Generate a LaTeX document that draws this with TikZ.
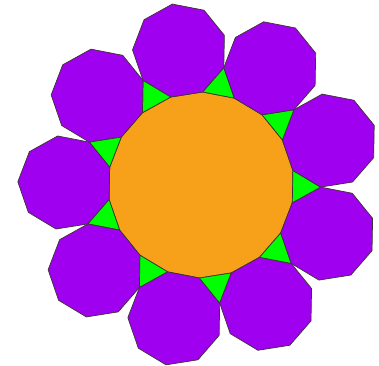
\documentclass[tikz,border=0pt]{standalone}
\usetikzlibrary{shapes.geometric}
\definecolor{orangeface}{RGB}{247,160,25}
\definecolor{purpleface}{RGB}{160,0,240}
\definecolor{greenface}{RGB}{0,255,0}
\definecolor{edgecol}{RGB}{60,50,50}
\begin{document}
\begin{tikzpicture}[x=1pt,y=1pt,
  tile/.style={regular polygon, draw=edgecol, line width=0.7pt, inner sep=0pt, outer sep=0pt, line join=round},
  centretile/.style={tile, regular polygon sides=18, fill=orangeface},
  nonatile/.style={tile, regular polygon sides=9, fill=purpleface},
  tritile/.style={tile, regular polygon sides=3, fill=greenface}]
\useasboundingbox (0,0) rectangle (379,365);
\def\s{32.3}
\pgfmathsetmacro\Rb{\s/(2*sin(10))}
\pgfmathsetmacro\rb{\s/(2*tan(10))}
\pgfmathsetmacro\Rn{\s/(2*sin(20))}
\pgfmathsetmacro\rn{\s/(2*tan(20))}
\pgfmathsetmacro\Rt{\s/sqrt(3)}
\pgfmathsetmacro\rt{\s/(2*sqrt(3))}
\coordinate (O) at (201,180);
\node[centretile, minimum size=2*\Rb, rotate=9] (c) at (O) {};
\foreach \k in {0,...,8}{
  \pgfmathsetmacro\phi{79+40*\k}
  \pgfmathsetmacro\th{99+40*\k}
  \node[tritile, minimum size=2*\Rt, rotate=\phi-90] (t\k) at ([shift={(\phi:\rb+\rt)}]O) {};
  \node[nonatile, minimum size=2*\Rn, rotate=9] (n\k) at ([shift={(\th:\rb+\rn)}]O) {};
}
\end{tikzpicture}
\end{document}
